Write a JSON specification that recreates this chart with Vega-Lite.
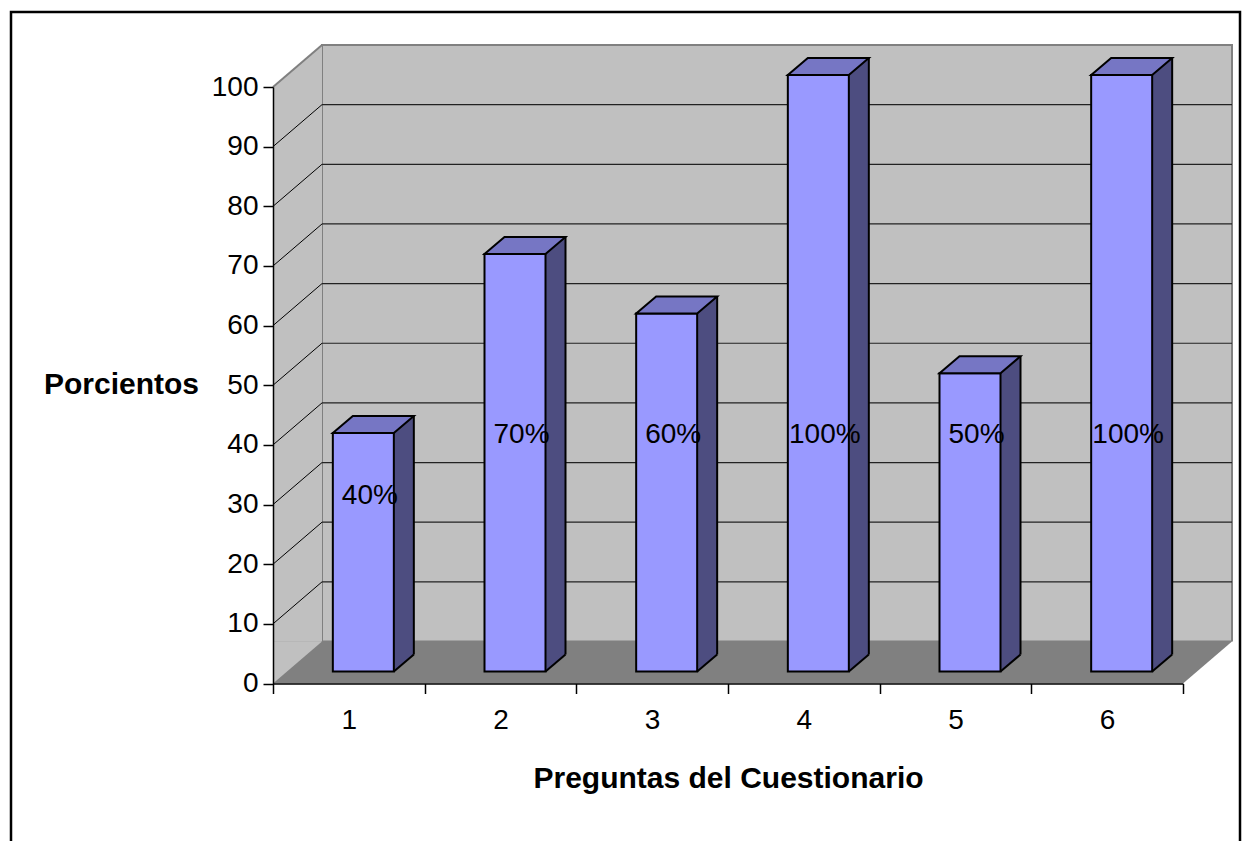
{
  "$schema": "https://vega.github.io/schema/vega-lite/v6.json",
  "width": 910,
  "height": 596.5,
  "autosize": {"type": "none"},
  "padding": {"left": 273, "top": 87, "right": 65, "bottom": 157.5},
  "background": "white",
  "config": {"view": {"stroke": null}, "font": "Liberation Sans"},
  "datasets": {
    "bars": [
      {"pregunta": 1, "porciento": 40, "etiqueta": "40%"},
      {"pregunta": 2, "porciento": 70, "etiqueta": "70%"},
      {"pregunta": 3, "porciento": 60, "etiqueta": "60%"},
      {"pregunta": 4, "porciento": 100, "etiqueta": "100%"},
      {"pregunta": 5, "porciento": 50, "etiqueta": "50%"},
      {"pregunta": 6, "porciento": 100, "etiqueta": "100%"}
    ],
    "grid": [
      {"nivel": 10}, {"nivel": 20}, {"nivel": 30}, {"nivel": 40}, {"nivel": 50},
      {"nivel": 60}, {"nivel": 70}, {"nivel": 80}, {"nivel": 90}
    ],
    "one": [{}]
  },
  "layer": [
    {
      "data": {"name": "one"},
      "mark": {"type": "rect", "fill": "white", "stroke": "black", "strokeWidth": 2.5,
               "xOffset": -262, "x2Offset": 57, "yOffset": -75, "y2Offset": 200},
      "encoding": {
        "x": {"datum": 0.5, "type": "quantitative",
              "scale": {"domain": [0.5, 6.5], "nice": false, "zero": false},
              "axis": {"title": "Preguntas del Cuestionario", "values": [0.5, 1.5, 2.5, 3.5, 4.5, 5.5, 6.5],
                       "labelExpr": "datum.value < 6 ? '' + (datum.value + 0.5) : ''",
                       "labelOffset": 75.8, "labelFontSize": 28, "labelColor": "black", "labelPadding": 13,
                       "labelOverlap": false, "labelFlush": false, "labelBound": false,
                       "tickSize": 10, "tickColor": "black", "tickWidth": 1.5,
                       "domainColor": "black", "domainWidth": 1.5, "grid": false,
                       "titleFontSize": 30, "titleFontWeight": "bold", "titleColor": "black",
                       "titleY": 94.5, "titleBaseline": "middle", "titlePadding": 0, "zindex": 1}},
        "x2": {"datum": 6.5},
        "y": {"datum": 100, "type": "quantitative",
              "scale": {"domain": [0, 100], "nice": false, "zero": true},
              "axis": {"title": "Porcientos", "values": [0, 10, 20, 30, 40, 50, 60, 70, 80, 90, 100],
                       "labelFontSize": 28, "labelColor": "black", "labelPadding": 5,
                       "labelOverlap": false, "labelFlush": false, "labelBound": false,
                       "tickSize": 10, "tickColor": "black", "tickWidth": 1.5,
                       "domainColor": "black", "domainWidth": 1.5, "grid": false,
                       "titleFontSize": 30, "titleFontWeight": "bold", "titleColor": "black",
                       "titleAngle": 0, "titleX": -152, "titleY": 297, "titleAlign": "center",
                       "titleBaseline": "middle", "zindex": 1}},
        "y2": {"datum": 0}
      }
    },
    {
      "data": {"name": "one"},
      "mark": {"type": "rect", "fill": "#C0C0C0", "stroke": "#808080", "strokeWidth": 2,
               "xOffset": 49, "x2Offset": 49, "yOffset": -42, "y2Offset": -42},
      "encoding": {
        "x": {"datum": 0.5, "type": "quantitative"},
        "x2": {"datum": 6.5},
        "y": {"datum": 100, "type": "quantitative"},
        "y2": {"datum": 0}
      }
    },
    {
      "data": {"name": "grid"},
      "mark": {"type": "rule", "stroke": "#222222", "strokeWidth": 1.2,
               "xOffset": 49, "x2Offset": 49, "yOffset": -42},
      "encoding": {
        "x": {"datum": 0.5, "type": "quantitative"},
        "x2": {"datum": 6.5},
        "y": {"field": "nivel", "type": "quantitative"}
      }
    },
    {
      "data": {"name": "one"},
      "mark": {"type": "rect", "fill": "#C0C0C0", "strokeWidth": 0,
               "xOffset": 0, "x2Offset": 49, "yOffset": 0, "y2Offset": -42},
      "encoding": {
        "x": {"datum": 0.5, "type": "quantitative"},
        "x2": {"datum": 0.5},
        "y": {"datum": 100, "type": "quantitative"},
        "y2": {"datum": 0}
      }
    },
    {
      "data": {"name": "one"},
      "mark": {"type": "point", "shape": "M0,0L49,-42L49,0Z", "size": 4, "filled": true,
               "fill": "#C0C0C0", "opacity": 1, "strokeWidth": 0},
      "encoding": {
        "x": {"datum": 0.5, "type": "quantitative"},
        "y": {"datum": 100, "type": "quantitative"}
      }
    },
    {
      "data": {"name": "one"},
      "mark": {"type": "rule", "stroke": "#808080", "strokeWidth": 2,
               "xOffset": 0, "x2Offset": 49, "yOffset": 0, "y2Offset": -42},
      "encoding": {
        "x": {"datum": 0.5, "type": "quantitative"},
        "x2": {"datum": 0.5},
        "y": {"datum": 100, "type": "quantitative"},
        "y2": {"datum": 100}
      }
    },
    {
      "data": {"name": "grid"},
      "mark": {"type": "rule", "stroke": "black", "strokeWidth": 1,
               "xOffset": 0, "x2Offset": 49, "yOffset": 0, "y2Offset": -42},
      "encoding": {
        "x": {"datum": 0.5, "type": "quantitative"},
        "x2": {"datum": 0.5},
        "y": {"field": "nivel", "type": "quantitative"},
        "y2": {"field": "nivel"}
      }
    },
    {
      "data": {"name": "one"},
      "mark": {"type": "rect", "fill": "#808080", "strokeWidth": 0,
               "xOffset": 0, "x2Offset": 49, "yOffset": 0, "y2Offset": -42},
      "encoding": {
        "x": {"datum": 0.5, "type": "quantitative"},
        "x2": {"datum": 6.5},
        "y": {"datum": 0, "type": "quantitative"},
        "y2": {"datum": 0}
      }
    },
    {
      "data": {"name": "one"},
      "mark": {"type": "point", "shape": "M0,0L49,-42L53,-42L53,3L0,3Z", "size": 4, "filled": true,
               "fill": "white", "opacity": 1, "strokeWidth": 0},
      "encoding": {
        "x": {"datum": 6.5, "type": "quantitative"},
        "y": {"datum": 0, "type": "quantitative"}
      }
    },
    {
      "data": {"name": "one"},
      "mark": {"type": "point", "shape": "M0,0L0,-42L49,-42Z", "size": 4, "filled": true,
               "fill": "#C0C0C0", "opacity": 1, "strokeWidth": 0},
      "encoding": {
        "x": {"datum": 0.5, "type": "quantitative"},
        "y": {"datum": 0, "type": "quantitative"}
      }
    },
    {
      "data": {"name": "bars"},
      "mark": {"type": "rect", "fill": "#4D4D80", "strokeWidth": 0,
               "xOffset": 45, "x2Offset": 65, "yOffset": -29, "y2Offset": -12},
      "encoding": {
        "x": {"field": "pregunta", "type": "quantitative"},
        "x2": {"field": "pregunta"},
        "y": {"field": "porciento", "type": "quantitative"},
        "y2": {"datum": 0}
      }
    },
    {
      "data": {"name": "bars"},
      "mark": {"type": "point", "shape": "M45,-12L66.2,-30L66.2,-11L45,-11Z", "size": 4, "filled": true,
               "fill": "#808080", "opacity": 1, "strokeWidth": 0},
      "encoding": {
        "x": {"field": "pregunta", "type": "quantitative"},
        "y": {"datum": 0, "type": "quantitative"}
      }
    },
    {
      "data": {"name": "bars"},
      "mark": {"type": "rect", "fill": "#9999FF", "stroke": "black", "strokeWidth": 2,
               "xOffset": -16, "x2Offset": 45, "yOffset": -12, "y2Offset": -12},
      "encoding": {
        "x": {"field": "pregunta", "type": "quantitative"},
        "x2": {"field": "pregunta"},
        "y": {"field": "porciento", "type": "quantitative"},
        "y2": {"datum": 0}
      }
    },
    {
      "data": {"name": "bars"},
      "mark": {"type": "rule", "stroke": "black", "strokeWidth": 2,
               "xOffset": 65, "yOffset": -29, "y2Offset": -29},
      "encoding": {
        "x": {"field": "pregunta", "type": "quantitative"},
        "y": {"field": "porciento", "type": "quantitative"},
        "y2": {"datum": 0}
      }
    },
    {
      "data": {"name": "bars"},
      "mark": {"type": "rule", "stroke": "black", "strokeWidth": 2,
               "xOffset": 45, "x2Offset": 65, "yOffset": -12, "y2Offset": -29},
      "encoding": {
        "x": {"field": "pregunta", "type": "quantitative"},
        "x2": {"field": "pregunta"},
        "y": {"datum": 0, "type": "quantitative"},
        "y2": {"datum": 0}
      }
    },
    {
      "data": {"name": "bars"},
      "mark": {"type": "point", "shape": "M-16,-12L45,-12L65,-29L4,-29Z", "size": 4, "filled": true,
               "fill": "#7676C4", "opacity": 1, "stroke": "black", "strokeWidth": 2},
      "encoding": {
        "x": {"field": "pregunta", "type": "quantitative"},
        "y": {"field": "porciento", "type": "quantitative"}
      }
    },
    {
      "data": {"name": "bars"},
      "transform": [{"filter": "datum.pregunta != 1"}],
      "mark": {"type": "text", "fontSize": 28, "color": "black", "fill": "black", "dx": 21, "baseline": "middle", "align": "center"},
      "encoding": {
        "x": {"field": "pregunta", "type": "quantitative"},
        "y": {"datum": 41.6, "type": "quantitative"},
        "text": {"field": "etiqueta"}
      }
    },
    {
      "data": {"name": "bars"},
      "transform": [{"filter": "datum.pregunta == 1"}],
      "mark": {"type": "text", "fontSize": 28, "color": "black", "fill": "black", "dx": 21, "baseline": "middle", "align": "center"},
      "encoding": {
        "x": {"field": "pregunta", "type": "quantitative"},
        "y": {"datum": 31.5, "type": "quantitative"},
        "text": {"field": "etiqueta"}
      }
    }
  ]
}
